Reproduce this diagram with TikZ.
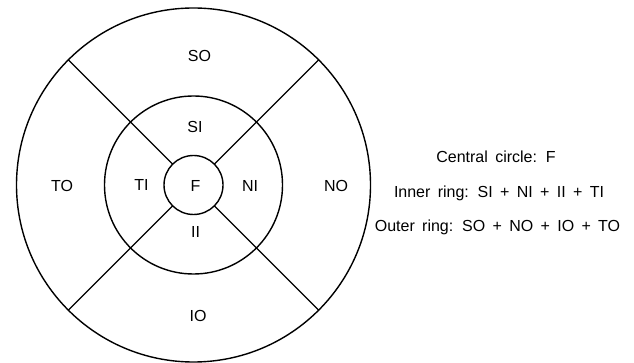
\documentclass[tikz,border=0pt]{standalone}
\usepackage{fontspec}
\setmainfont{Liberation Sans}[WordSpace=1.65]
\begin{document}
\begin{tikzpicture}[x=1pt,y=-1pt,
  ring/.style={circle,draw,line width=1.4pt,inner sep=0pt,outer sep=0pt,minimum size=#1},
  seg/.style={line width=1.4pt},
  lbl/.style={anchor=base,inner sep=0pt,font=\fontsize{16}{19}\selectfont},
  note/.style={anchor=base,inner sep=0pt,font=\fontsize{16}{19}\selectfont}]
\useasboundingbox (0,0) rectangle (634,363);
% concentric grid
\coordinate (c) at (193.5,185);
\node[ring=354pt] (outer) at (c) {};
\node[ring=178pt] (middle) at (c) {};
\node[ring=59pt] (inner) at (c) {};
% diagonal dividers between inner circle and outer circle
\foreach \a in {45,135,225,315}
  \draw[seg] (inner.\a) -- (outer.\a);
% sector labels
\node[lbl] (so) at (199.5,62) {SO};
\node[lbl] (si) at (195,132.5) {SI};
\node[lbl] (ti) at (141.5,191) {TI};
\node[lbl] (f)  at (195.5,191.5) {F};
\node[lbl] (ni) at (250,191.5) {NI};
\node[lbl] (no) at (336,191.5) {NO};
\node[lbl] (to) at (62,191.5) {TO};
\node[lbl] (ii) at (195.5,238) {II};
\node[lbl] (io) at (198,321) {IO};
% legend
\node[note] (l1) at (496,163) {Central circle: F};
\node[note] (l2) at (499,197.5) {Inner ring: SI + NI + II + TI};
\node[note] (l3) at (497.5,231.5) {Outer ring: SO + NO + IO + TO};
\end{tikzpicture}
\end{document}
